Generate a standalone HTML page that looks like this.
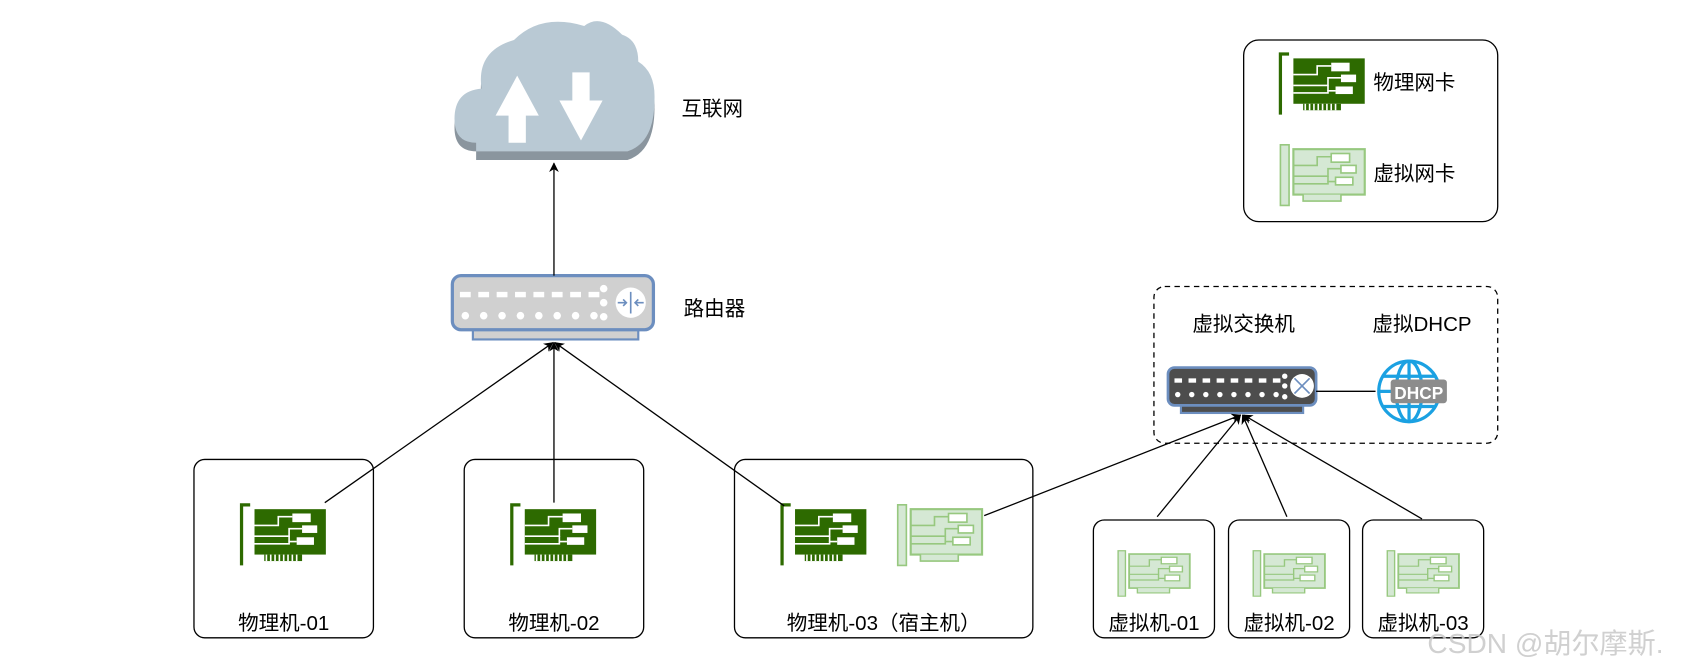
<!DOCTYPE html>
<html><head><meta charset="utf-8"><style>
html,body{margin:0;padding:0;background:#fff;}
svg{display:block;}
text{font-family:"Liberation Sans","Noto Sans CJK SC",sans-serif;fill:#000;}
</style></head><body>
<svg width="1696" height="667" viewBox="0 0 1568 617" xmlns="http://www.w3.org/2000/svg">
<defs>
<marker id="ar" viewBox="0 0 10 10" refX="9" refY="5" markerWidth="9" markerHeight="9" orient="auto-start-reverse" markerUnits="userSpaceOnUse"><path d="M0,0 L10,5 L0,10 L3,5 z" fill="#000"/></marker>
<g id="nicD">
  <path d="M1,58 V2 H9" fill="none" stroke="#2d6a00" stroke-width="3"/>
  <rect x="13" y="6" width="66" height="42" fill="#2d6a00"/>
  <g fill="#2d6a00"><rect x="22" y="48" width="35" height="6"/></g>
  <g stroke="#fff" stroke-width="1.5" fill="none">
    <line x1="24" y1="48" x2="24" y2="54"/><line x1="28" y1="48" x2="28" y2="54"/><line x1="32" y1="48" x2="32" y2="54"/><line x1="36" y1="48" x2="36" y2="54"/><line x1="40" y1="48" x2="40" y2="54"/><line x1="44" y1="48" x2="44" y2="54"/><line x1="48" y1="48" x2="48" y2="54"/><line x1="52" y1="48" x2="52" y2="54"/>
    <path d="M13,21 H35 V13 H48"/><path d="M13,31 H45 V24 H57"/><path d="M13,38 H45 V36 H52"/><path d="M45,31 V36"/>
  </g>
  <rect x="48" y="10" width="17" height="8" fill="#fff"/>
  <rect x="57" y="21" width="14" height="7" fill="#fff"/>
  <rect x="52" y="32" width="16" height="7" fill="#fff"/>
</g>
<g id="nicV">
  <path d="M1,58 V2 H9 V58 Z" fill="#d5e8d4" stroke="#97c87f" stroke-width="1.5"/>
  <rect x="13" y="6" width="66" height="42" fill="#d5e8d4" stroke="#97c87f" stroke-width="2"/>
  <path d="M22,48 V54 H57 V48" fill="#d5e8d4" stroke="#97c87f" stroke-width="1.5"/>
  <g stroke="#97c87f" stroke-width="1.5" fill="none">
    <path d="M13,21 H35 V13 H48"/><path d="M13,31 H45 V24 H57"/><path d="M13,38 H45 V36 H52"/><path d="M45,31 V36"/>
  </g>
  <rect x="48" y="10" width="17" height="8" fill="#fff" stroke="#97c87f" stroke-width="1.5"/>
  <rect x="57" y="21" width="14" height="7" fill="#fff" stroke="#97c87f" stroke-width="1.5"/>
  <rect x="52" y="32" width="16" height="7" fill="#fff" stroke="#97c87f" stroke-width="1.5"/>
</g>
</defs>

<g>
  <path d="M440,140 Q420,140 420,118 Q420,92 445,90 Q440,55 475,45 Q500,20 540,32 Q555,20 575,40 Q590,45 590,65 Q606,75 605,100 Q605,140 580,148 H440 Z" fill="#8a959e"/>
  <path d="M440,132 Q420,132 420,110 Q420,84 445,82 Q440,47 475,37 Q500,12 540,24 Q555,12 575,32 Q590,37 590,57 Q606,67 605,92 Q605,132 580,140 H440 Z" fill="#b9c9d4"/>
  <path d="M478,70 L458,107 H470 V132 H486 V107 H498 Z" fill="#fff"/>
  <path d="M537,130 L557,93 H545 V67 H529 V93 H517 Z" fill="#fff"/>
</g>
<text x="630" y="107" font-size="19">互联网</text>

<g>
  <rect x="437" y="303" width="153" height="11" fill="#d0d0d0" stroke="#6c8ebf" stroke-width="2"/>
  <rect x="418" y="255" width="186" height="50" rx="8" fill="#d0d0d0" stroke="#6c8ebf" stroke-width="3"/>
  <g fill="#fff">
    <rect x="425" y="270" width="10" height="5"/><rect x="442" y="270" width="10" height="5"/><rect x="459" y="270" width="10" height="5"/><rect x="476" y="270" width="10" height="5"/><rect x="493" y="270" width="10" height="5"/><rect x="510" y="270" width="10" height="5"/><rect x="527" y="270" width="10" height="5"/><rect x="544" y="270" width="10" height="5"/>
    <circle cx="430" cy="292" r="3.5"/><circle cx="447" cy="292" r="3.5"/><circle cx="464" cy="292" r="3.5"/><circle cx="481" cy="292" r="3.5"/><circle cx="498" cy="292" r="3.5"/><circle cx="515" cy="292" r="3.5"/><circle cx="532" cy="292" r="3.5"/><circle cx="549" cy="292" r="3.5"/>
    <circle cx="558" cy="267" r="3.5"/><circle cx="558" cy="280" r="3.5"/><circle cx="558" cy="293" r="3.5"/>
    <circle cx="583" cy="280" r="14"/>
  </g>
  <g stroke="#6c8ebf" stroke-width="1.5" fill="none"><path d="M571,280 H579 M576,277 L579,280 L576,283 M595,280 H587 M590,277 L587,280 L590,283 M583,270 V290"/></g>
</g>
<text x="632" y="292" font-size="19">路由器</text>

<rect x="1150" y="37" width="235" height="168" rx="14" fill="#fff" stroke="#000" stroke-width="1.2"/>
<use href="#nicD" x="1183" y="48"/>
<text x="1270" y="83" font-size="19">物理网卡</text>
<use href="#nicV" x="1183" y="132"/>
<text x="1270" y="167" font-size="19">虚拟网卡</text>

<rect x="1067" y="265" width="318" height="145" rx="10" fill="none" stroke="#000" stroke-width="1.2" stroke-dasharray="5,4"/>
<text x="1150" y="306" font-size="19" text-anchor="middle">虚拟交换机</text>
<text x="1315" y="306" font-size="19" text-anchor="middle">虚拟DHCP</text>
<g>
  <rect x="1092" y="373" width="113" height="9" fill="#4d4d4d" stroke="#6c8ebf" stroke-width="2"/>
  <rect x="1080" y="340" width="137" height="35" rx="6" fill="#4d4d4d" stroke="#6c8ebf" stroke-width="2.5"/>
  <g fill="#fff">
    <rect x="1086" y="350" width="7" height="4"/><rect x="1099" y="350" width="7" height="4"/><rect x="1112" y="350" width="7" height="4"/><rect x="1125" y="350" width="7" height="4"/><rect x="1138" y="350" width="7" height="4"/><rect x="1151" y="350" width="7" height="4"/><rect x="1164" y="350" width="7" height="4"/><rect x="1177" y="350" width="7" height="4"/>
    <circle cx="1089" cy="365" r="2.5"/><circle cx="1102" cy="365" r="2.5"/><circle cx="1115" cy="365" r="2.5"/><circle cx="1128" cy="365" r="2.5"/><circle cx="1141" cy="365" r="2.5"/><circle cx="1154" cy="365" r="2.5"/><circle cx="1167" cy="365" r="2.5"/><circle cx="1180" cy="365" r="2.5"/>
    <circle cx="1188" cy="348" r="2.5"/><circle cx="1188" cy="357" r="2.5"/><circle cx="1188" cy="367" r="2.5"/>
    <circle cx="1204" cy="357" r="11"/>
  </g>
  <path d="M1197,350 L1211,364 M1211,350 L1197,364" stroke="#6c8ebf" stroke-width="1.5"/>
</g>
<line x1="1217" y1="362" x2="1272" y2="362" stroke="#000" stroke-width="1.2"/>
<g fill="none" stroke="#1ba1e2" stroke-width="3">
  <circle cx="1303" cy="362" r="28"/>
  <ellipse cx="1303" cy="362" rx="12" ry="28"/>
  <line x1="1303" y1="334" x2="1303" y2="390"/>
  <line x1="1275" y1="362" x2="1331" y2="362"/>
  <path d="M1279,348 H1327 M1279,376 H1327"/>
</g>
<rect x="1286" y="351" width="52" height="22" rx="3" fill="#8c8c8c"/>
<text x="1312" y="369" font-size="16" font-weight="bold" text-anchor="middle" style="fill:#fff">DHCP</text>

<g fill="#fff" stroke="#000" stroke-width="1.2">
  <rect x="179" y="425" width="166" height="165" rx="10"/>
  <rect x="429" y="425" width="166" height="165" rx="10"/>
  <rect x="679" y="425" width="276" height="165" rx="10"/>
  <rect x="1011" y="481" width="112" height="109" rx="10"/>
  <rect x="1136" y="481" width="112" height="109" rx="10"/>
  <rect x="1260" y="481" width="112" height="109" rx="10"/>
</g>
<use href="#nicD" x="222" y="465"/>
<use href="#nicD" x="472" y="465"/>
<use href="#nicD" x="722" y="465"/>
<use href="#nicV" x="829" y="465"/>
<g transform="translate(1033,508) scale(0.85,0.75)"><use href="#nicV"/></g>
<g transform="translate(1158,508) scale(0.85,0.75)"><use href="#nicV"/></g>
<g transform="translate(1282,508) scale(0.85,0.75)"><use href="#nicV"/></g>

<g stroke="#000" stroke-width="1.2" fill="none" marker-end="url(#ar)">
  <line x1="512" y1="255" x2="512" y2="151"/>
  <line x1="300" y1="465" x2="511" y2="317"/>
  <line x1="512" y1="465" x2="512" y2="317"/>
  <line x1="725" y1="468" x2="513" y2="317"/>
  <line x1="910" y1="477" x2="1147" y2="384"/>
  <line x1="1070" y1="478" x2="1147" y2="384"/>
  <line x1="1190" y1="478" x2="1149" y2="384"/>
  <line x1="1315" y1="480" x2="1150" y2="384"/>
</g>

<g font-size="19" text-anchor="middle">
  <text x="262" y="583">物理机-01</text>
  <text x="512" y="583">物理机-02</text>
  <text x="817" y="583">物理机-03（宿主机）</text>
  <text x="1067" y="583">虚拟机-01</text>
  <text x="1192" y="583">虚拟机-02</text>
  <text x="1316" y="583">虚拟机-03</text>
</g>
<text x="1320" y="604" font-size="26" style="fill:#c8c8c8" opacity="0.85">CSDN @胡尔摩斯.</text>
</svg>
</body></html>
